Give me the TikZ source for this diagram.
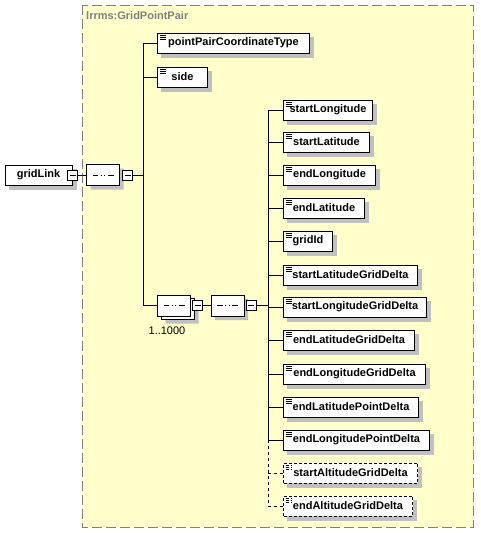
\documentclass[tikz,border=0pt]{standalone}
\usepackage{fontspec}
\setmainfont{Liberation Sans}
\usepackage{tikz}
\usetikzlibrary{positioning,shapes.misc,calc}
\definecolor{schemafill}{HTML}{FFFFCC}
\definecolor{framegray}{HTML}{808080}
\definecolor{shadowgray}{RGB}{192,192,192}
\pgfdeclarelayer{back}
\pgfdeclarelayer{behind}
\pgfsetlayers{back,behind,main}

\begin{document}
\begin{tikzpicture}[x=1pt,y=-1pt,
  every node/.style={font=\fontsize{11}{13}\selectfont\bfseries},
  frame/.style={draw=framegray,fill=schemafill,line width=1pt,dash pattern=on 10pt off 4pt},
  title/.style={anchor=west,text=framegray,inner sep=0pt},
  root/.style={rectangle,draw=black,fill=white,line width=1pt,minimum height=20pt,inner xsep=0pt},
  elem/.style={root,anchor=west,
    path picture={\foreach \k in {2,4,6}
      \draw[line width=0.9pt] ([xshift=2pt,yshift=-\k pt]path picture bounding box.north west) -- ++(6pt,0);}},
  optelem/.style={elem,dash pattern=on 3pt off 2pt},
  seqshape/.style={chamfered rectangle,chamfered rectangle xsep=7pt,
    minimum width=33pt,minimum height=21pt,inner sep=0pt},
  seq/.style={seqshape,draw=black,fill=white,line width=1pt,
    path picture={
      \draw[line width=1pt] ([xshift=6pt]path picture bounding box.west) -- ([xshift=-6pt]path picture bounding box.east);
      \foreach \d in {-3.5,0,3.5}
        \fill ([xshift=\d pt]path picture bounding box.center) +(-1.3pt,-1.3pt) rectangle +(1.3pt,1.3pt);}},
  shadowfill/.style={fill=shadowgray,draw=none},
  toggle/.style={rectangle,draw=black,fill=white,line width=1pt,minimum size=10pt,inner sep=0pt,
    path picture={\draw[line width=1pt] ([xshift=2pt]path picture bounding box.west) -- ([xshift=-2pt]path picture bounding box.east);}},
  link/.style={line width=1pt,draw=black},
  occurs/.style={font=\fontsize{11}{13}\selectfont}
]
\useasboundingbox (0,0) rectangle (480,533);

% complex type frame
\begin{pgfonlayer}{back}
\draw[frame] (82,5) rectangle (473,527);
\end{pgfonlayer}
\node[title] (typename) at (86,16) {lrrms:GridPointPair};

% root element and first sequence
\node[root,minimum width=67pt] (gridlink) at (38.5,175) {gridLink};
\node[toggle] (tga) at (gridlink.east) {};
\node[seq] (seqa) at (103,175) {};
\node[toggle,right=2pt of seqa] (tgb) {};
\coordinate (spinea) at (143,0);

\node[elem,minimum width=152pt] (ppct) at (157,43) {pointPairCoordinateType};
\node[elem,minimum width=50pt] (side) at (157,77) {side};

% repeated sequence 1..1000
\node[seq,path picture={}] (seqbback) at (178,309) {};
\node[seq] (seqb) at (174,305.5) {};
\node[toggle,right=1pt of seqb] (tgc) {};
\node[occurs] (occb) at (167,331) {1..1000};
\node[seq] (seqc) at (227.5,305.5) {};
\node[toggle,right=1pt of seqc] (tgd) {};
\coordinate (spineb) at (268,0);

\node[elem,minimum width=89pt] (slon) at (283,110) {startLongitude};
\node[elem,minimum width=86pt] (slat) at (283,142) {startLatitude};
\node[elem,minimum width=92pt] (elon) at (283,175) {endLongitude};
\node[elem,minimum width=81pt] (elat) at (283,208) {endLatitude};
\node[elem,minimum width=49pt] (gid) at (283,241) {gridId};
\node[elem,minimum width=134pt] (slatgd) at (283,275) {startLatitudeGridDelta};
\node[elem,minimum width=143pt] (slongd) at (283,307) {startLongitudeGridDelta};
\node[elem,minimum width=131pt] (elatgd) at (283,340) {endLatitudeGridDelta};
\node[elem,minimum width=142pt] (elongd) at (283,374) {endLongitudeGridDelta};
\node[elem,minimum width=135pt] (elatpd) at (283,407) {endLatitudePointDelta};
\node[elem,minimum width=146pt] (elonpd) at (283,440) {endLongitudePointDelta};
\node[optelem,minimum width=134pt] (saltgd) at (283,473) {startAltitudeGridDelta};
\node[optelem,minimum width=129pt] (ealtgd) at (283,506) {endAltitudeGridDelta};

% drop shadows
\begin{pgfonlayer}{behind}
\foreach \n in {gridlink,ppct,side,slon,slat,elon,elat,gid,slatgd,slongd,elatgd,elongd,elatpd,elonpd,saltgd,ealtgd}
  \path[shadowfill] ($(\n.south west)+(4pt,-4pt)$) rectangle ($(\n.north east)+(4pt,-4pt)$);
\foreach \n in {seqa,seqbback,seqc}
  \node[seqshape,shadowfill] at ($(\n.center)+(4pt,-4pt)$) {};
\end{pgfonlayer}

% connectors
\draw[link] (tga.east) -- (seqa.west);
\draw[link] (tgb.east) -- (tgb.east -| spinea);
\draw[link] (ppct.west -| spinea) -- (seqb.west -| spinea);
\draw[link] (ppct.west -| spinea) -- (ppct.west);
\draw[link] (side.west -| spinea) -- (side.west);
\draw[link] (seqb.west -| spinea) -- (seqb.west);
\draw[link] (tgc.east) -- (seqc.west);
\draw[link] (tgd.east) -- (tgd.east -| spineb);
\draw[link] (slon.west -| spineb) -- (elonpd.west -| spineb);
\draw[link,dashed] (elonpd.west -| spineb) -- (ealtgd.west -| spineb);
\foreach \n in {slon,slat,elon,elat,gid,slatgd,slongd,elatgd,elongd,elatpd,elonpd}
  \draw[link] (\n.west -| spineb) -- (\n.west);
\draw[link,dashed] (saltgd.west -| spineb) -- (saltgd.west);
\draw[link,dashed] (ealtgd.west -| spineb) -- (ealtgd.west);
\end{tikzpicture}
\end{document}
